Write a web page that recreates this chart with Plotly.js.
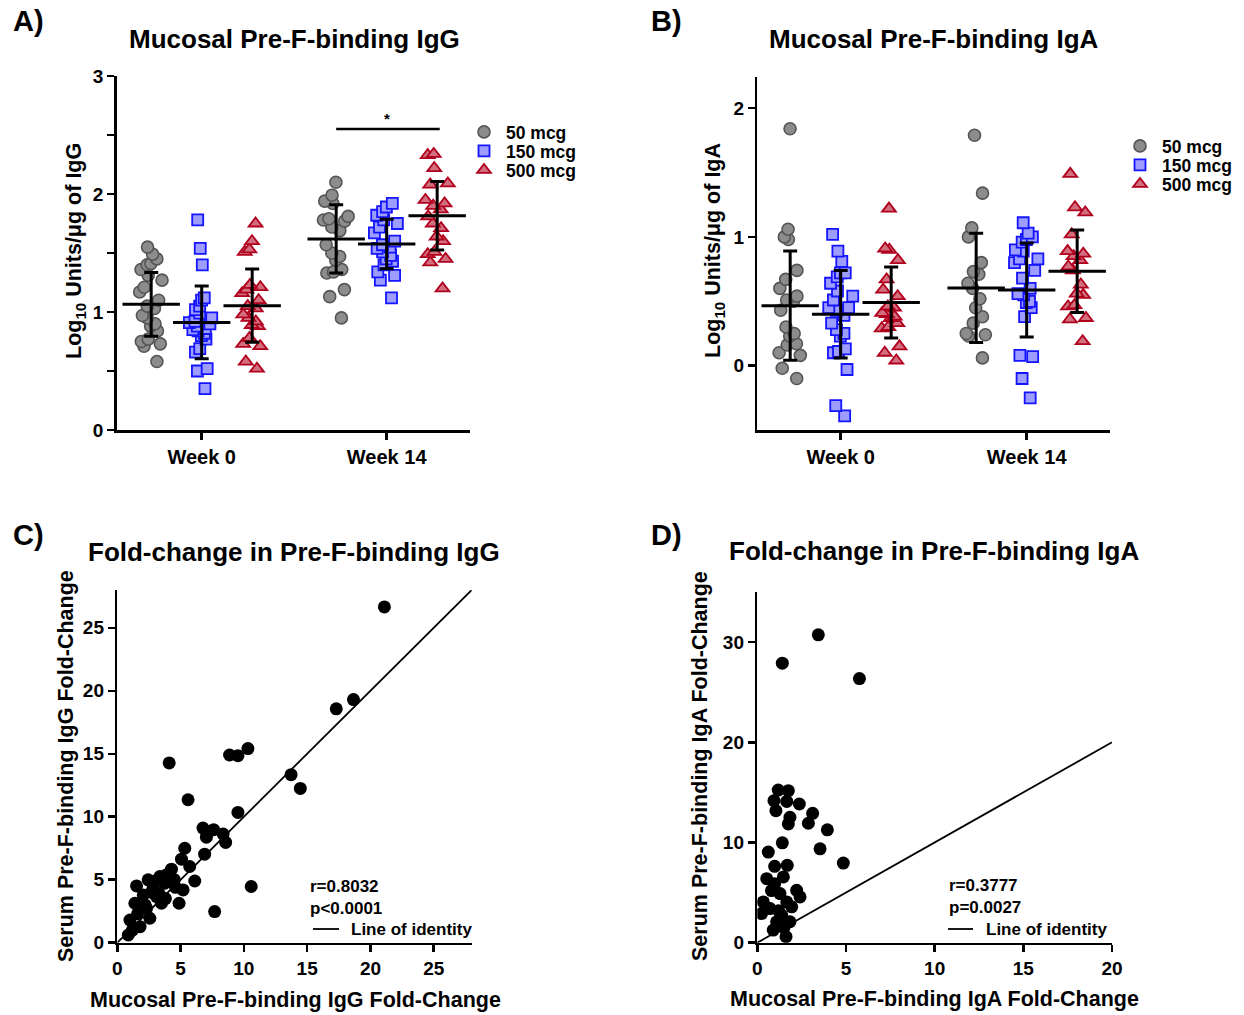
<!DOCTYPE html>
<html>
<head>
<meta charset="utf-8">
<script src="https://cdn.plot.ly/plotly-3.0.1.min.js"></script>
<style>html,body{margin:0;padding:0;background:#fff;}#chart{width:1244px;height:1015px;}</style>
</head>
<body>
<div id="chart"></div>
<script>
// ---------------- DATA ----------------
const weeks = ['Week 0', 'Week 14'];
const doses = ['50 mcg', '150 mcg', '500 mcg'];

// Panel A: Mucosal Pre-F-binding IgG (log10 units/ug IgG)
const igg50_w0  = [1.55, 1.49, 1.45, 1.41, 1.40, 1.36, 1.31, 1.27, 1.21, 1.17, 1.10, 1.05, 1.03, 0.97, 0.95, 0.90, 0.88, 0.84, 0.77, 0.75, 0.73, 0.71, 0.58];
const igg150_w0 = [1.78, 1.54, 1.40, 1.12, 1.10, 1.05, 1.02, 0.99, 0.95, 0.92, 0.91, 0.90, 0.88, 0.86, 0.85, 0.84, 0.82, 0.80, 0.77, 0.69, 0.66, 0.52, 0.50, 0.35];
const igg500_w0 = [1.75, 1.60, 1.53, 1.51, 1.23, 1.21, 1.19, 1.16, 1.10, 1.05, 1.03, 0.98, 0.95, 0.92, 0.89, 0.88, 0.78, 0.73, 0.71, 0.58, 0.52];
const igg50_w14  = [2.10, 1.99, 1.94, 1.92, 1.81, 1.79, 1.78, 1.77, 1.72, 1.69, 1.57, 1.50, 1.47, 1.44, 1.36, 1.34, 1.33, 1.19, 1.13, 0.95];
const igg150_w14 = [1.92, 1.89, 1.85, 1.82, 1.78, 1.75, 1.72, 1.67, 1.60, 1.57, 1.55, 1.54, 1.51, 1.48, 1.45, 1.43, 1.40, 1.34, 1.31, 1.27, 1.12];
const igg500_w14 = [2.34, 2.33, 2.22, 2.09, 2.08, 1.95, 1.92, 1.90, 1.87, 1.81, 1.75, 1.71, 1.64, 1.60, 1.51, 1.49, 1.45, 1.42, 1.20];
// mean and SD per dose, [Week 0, Week 14]
const iggMean50 = [1.065, 1.619], iggSd50 = [0.270, 0.289];
const iggMean150 = [0.912, 1.576], iggSd150 = [0.308, 0.210];
const iggMean500 = [1.054, 1.816], iggSd500 = [0.310, 0.290];
const iggSigY = 2.55;

// Panel B: Mucosal Pre-F-binding IgA (log10 units/ug IgA)
const iga50_w0  = [1.84, 1.06, 1.00, 0.98, 0.74, 0.67, 0.60, 0.54, 0.51, 0.50, 0.43, 0.30, 0.25, 0.23, 0.17, 0.16, 0.10, 0.08, -0.02, -0.10];
const iga150_w0 = [1.02, 0.89, 0.81, 0.72, 0.72, 0.69, 0.64, 0.58, 0.54, 0.51, 0.45, 0.45, 0.43, 0.39, 0.33, 0.28, 0.25, 0.23, 0.13, 0.11, 0.10, -0.03, -0.31, -0.39];
const iga500_w0 = [1.22, 0.91, 0.90, 0.82, 0.67, 0.59, 0.54, 0.46, 0.45, 0.41, 0.40, 0.38, 0.37, 0.33, 0.30, 0.29, 0.15, 0.10, 0.04];
const iga50_w14  = [1.79, 1.34, 1.07, 1.00, 0.80, 0.73, 0.71, 0.64, 0.60, 0.52, 0.45, 0.38, 0.33, 0.25, 0.24, 0.23, 0.06];
const iga150_w14 = [1.11, 1.03, 1.00, 0.98, 0.96, 0.90, 0.89, 0.83, 0.83, 0.80, 0.74, 0.68, 0.60, 0.56, 0.55, 0.50, 0.49, 0.45, 0.38, 0.08, 0.07, -0.10, -0.25];
const iga500_w14 = [1.49, 1.23, 1.19, 1.02, 0.89, 0.87, 0.85, 0.82, 0.77, 0.74, 0.63, 0.56, 0.55, 0.47, 0.46, 0.37, 0.36, 0.19];
const igaMean50 = [0.466, 0.604], igaSd50 = [0.424, 0.425];
const igaMean150 = [0.400, 0.588], igaSd150 = [0.340, 0.365];
const igaMean500 = [0.490, 0.733], igaSd500 = [0.276, 0.320];

// Panel C: fold-change IgG (mucosal x, serum y)
const foldIgG_mucosal = [21.1, 17.3, 18.66, 10.32, 9.53, 8.87, 4.1, 13.73, 14.46, 5.59, 9.53, 6.77, 7.04, 7.61, 8.36, 8.56, 5.33, 6.9, 5.07, 5.72, 4.28, 3.36, 6.12, 2.44, 1.52, 10.58, 5.2, 3.75, 2.83, 2.05, 3.1, 1.39, 3.49, 4.88, 2.31, 2.57, 1.0, 7.69, 1.8, 0.87, 3.9, 4.5, 3.0, 2.2, 1.6, 3.8, 2.7, 4.6, 1.2, 3.3];
const foldIgG_serum   = [26.66, 18.57, 19.3, 15.41, 14.85, 14.9, 14.27, 13.34, 12.25, 11.35, 10.34, 9.1, 8.38, 8.97, 8.62, 7.96, 7.5, 7.03, 6.63, 6.05, 5.84, 5.25, 4.9, 4.99, 4.51, 4.46, 4.19, 4.72, 4.32, 3.79, 3.66, 3.13, 3.13, 3.13, 2.73, 1.94, 1.8, 2.47, 1.27, 0.61, 5.4, 5.0, 4.9, 3.0, 2.3, 3.5, 4.0, 4.4, 1.0, 3.9];
const statsIgG = ['r=0.8032', 'p<0.0001'];

// Panel D: fold-change IgA (mucosal x, serum y)
const foldIgA_mucosal = [3.44, 1.41, 5.76, 1.18, 1.75, 0.94, 1.66, 2.37, 1.05, 3.12, 1.84, 2.88, 1.75, 3.95, 1.41, 3.54, 0.62, 4.85, 0.98, 1.69, 0.53, 1.47, 0.98, 2.22, 2.41, 0.34, 1.66, 0.72, 1.94, 0.24, 1.37, 1.09, 1.84, 0.9, 1.62, 1.28, 1.2, 0.5, 1.5, 0.8];
const foldIgA_serum   = [30.73, 27.9, 26.36, 15.23, 15.17, 14.17, 14.1, 13.84, 13.18, 12.91, 12.52, 11.92, 11.85, 11.26, 9.97, 9.37, 9.04, 7.95, 7.62, 7.72, 6.39, 6.56, 5.89, 5.23, 4.57, 4.07, 4.07, 3.41, 3.58, 2.91, 2.75, 2.09, 2.09, 1.26, 0.6, 4.9, 3.2, 3.5, 1.5, 5.2];
const statsIgA = ['r=0.3777', 'p=0.0027'];

// ---------------- STYLE / LAYOUT ----------------
const W = 1244, H = 1015;
const FONT = 'Arial, "Liberation Sans", Helvetica, sans-serif';
const px = v => v / W;
const py = v => 1 - v / H;

const doseStyle = [
  {symbol: 'circle', size: 12, color: '#8c8c8c', line: {color: '#555555', width: 1.6}},
  {symbol: 'square', size: 11, color: '#9d9dff', line: {color: '#1414ff', width: 1.8}},
  {symbol: 'triangle-up', size: 12, color: '#d26e7d', line: {color: '#b0001e', width: 1.8}}
];
const weekPosA = [0, 3.663];
const weekPosB = [0, 3.683];
const doseOffset = [-1, 0, 1];

const traces = [];

function addPanel(groups, means, sds, weekPos, xa, ya) {
  groups.forEach((byWeek, d) => {
    byWeek.forEach((vals, w) => {
      traces.push({
        type: 'box', x0: weekPos[w] + doseOffset[d], y: vals, xaxis: xa, yaxis: ya,
        boxpoints: 'all', jitter: 0.75, pointpos: 0, width: 0.72,
        fillcolor: 'rgba(0,0,0,0)', line: {width: 0, color: 'rgba(0,0,0,0)'},
        marker: JSON.parse(JSON.stringify(doseStyle[d])),
        showlegend: false, hoverinfo: 'y'
      });
    });
  });
  const mx = [], my = [], me = [];
  means.forEach((m, d) => {
    m.forEach((v, w) => { mx.push(weekPos[w] + doseOffset[d]); my.push(v); me.push(sds[d][w]); });
  });
  traces.push({
    type: 'scatter', mode: 'markers', x: mx, y: my, xaxis: xa, yaxis: ya,
    marker: {symbol: 'line-ew', size: 41, color: 'black', line: {width: 3, color: 'black'}},
    error_y: {type: 'data', array: me, visible: true, thickness: 3, width: 7, color: 'black'},
    showlegend: false, hoverinfo: 'y'
  });
}

addPanel([[igg50_w0, igg50_w14], [igg150_w0, igg150_w14], [igg500_w0, igg500_w14]],
         [iggMean50, iggMean150, iggMean500], [iggSd50, iggSd150, iggSd500], weekPosA, 'x', 'y');
addPanel([[iga50_w0, iga50_w14], [iga150_w0, iga150_w14], [iga500_w0, iga500_w14]],
         [igaMean50, igaMean150, igaMean500], [igaSd50, igaSd150, igaSd500], weekPosB, 'x2', 'y2');

// legend entries: one small legend per dose so that rows sit exactly as in the figure
const legFont = {family: '"Liberation Sans", Arial, sans-serif', size: 17.5, color: 'black', weight: 'bold'};
const legRowsA = [114, 133, 152], legRowsB = [128, 147, 166];
const legendLayouts = {};
doses.forEach((name, d) => {
  ['A', 'B'].forEach((p, k) => {
    const id = 'legend' + (k * 3 + d === 0 ? '' : (k * 3 + d + 1));
    traces.push({type: 'scatter', mode: 'markers', x: [null], y: [null], name: name,
      xaxis: p === 'A' ? 'x' : 'x2', yaxis: p === 'A' ? 'y' : 'y2',
      legend: id, marker: JSON.parse(JSON.stringify(doseStyle[d])), showlegend: true});
    legendLayouts[id] = {
      x: px(p === 'A' ? 462 : 1118), y: py(p === 'A' ? legRowsA[d] : legRowsB[d]),
      xanchor: 'left', yanchor: 'top', bgcolor: 'rgba(0,0,0,0)', font: legFont,
      itemwidth: 34, itemclick: false
    };
  });
});

// Panel C & D
traces.push({type: 'scatter', mode: 'lines', x: [0, 28], y: [0, 28], xaxis: 'x3', yaxis: 'y3',
  line: {color: 'black', width: 1.8}, showlegend: false, hoverinfo: 'skip'});
traces.push({type: 'scatter', mode: 'markers', x: foldIgG_mucosal, y: foldIgG_serum, xaxis: 'x3', yaxis: 'y3',
  marker: {color: 'black', size: 13}, showlegend: false});
traces.push({type: 'scatter', mode: 'lines', x: [0, 20], y: [0, 20], xaxis: 'x4', yaxis: 'y4',
  line: {color: 'black', width: 1.8}, showlegend: false, hoverinfo: 'skip'});
traces.push({type: 'scatter', mode: 'markers', x: foldIgA_mucosal, y: foldIgA_serum, xaxis: 'x4', yaxis: 'y4',
  marker: {color: 'black', size: 13}, showlegend: false});

const axBase = {
  showline: true, linecolor: 'black', linewidth: 2.5, ticks: 'outside', ticklen: 7, tickwidth: 2.5,
  tickcolor: 'black', showgrid: false, zeroline: false, fixedrange: true,
  tickfont: {family: FONT, size: 19, color: 'black', weight: 'bold'}
};
const ax = o => Object.assign({}, JSON.parse(JSON.stringify(axBase)), o);
const minorTicks = {dtick: 0.5, ticks: 'outside', ticklen: 7, tickwidth: 2.5, tickcolor: 'black', showgrid: false};

const layout = Object.assign({
  width: W, height: H, margin: {l: 0, r: 0, t: 0, b: 0},
  paper_bgcolor: 'white', plot_bgcolor: 'white', showlegend: true,
  font: {family: FONT, color: 'black'},
  xaxis: ax({domain: [px(116.7), px(470)], range: [-1.683, 5.313], tickvals: weekPosA, ticktext: weeks,
    tickfont: {family: FONT, size: 20, color: 'black', weight: 'bold'}, anchor: 'y'}),
  yaxis: ax({domain: [py(430), py(76)], range: [0, 3], tickvals: [0, 1, 2, 3], minor: minorTicks, anchor: 'x'}),
  xaxis2: ax({domain: [px(757.3), px(1110)], range: [-1.651, 5.333], tickvals: weekPosB, ticktext: weeks,
    tickfont: {family: FONT, size: 20, color: 'black', weight: 'bold'}, anchor: 'y2'}),
  yaxis2: ax({domain: [py(430), py(77.3)], range: [-0.5, 2.24], tickvals: [0, 1, 2], anchor: 'x2'}),
  xaxis3: ax({domain: [px(117.3), px(471.7)], range: [0, 28], tickvals: [0, 5, 10, 15, 20, 25], anchor: 'y3'}),
  yaxis3: ax({domain: [py(942.7), py(590)], range: [0, 28], tickvals: [0, 5, 10, 15, 20, 25], anchor: 'x3'}),
  xaxis4: ax({domain: [px(757.3), px(1112)], range: [0, 20], tickvals: [0, 5, 10, 15, 20], anchor: 'y4'}),
  yaxis4: ax({domain: [py(942.7), py(592)], range: [0, 35], tickvals: [0, 10, 20, 30], anchor: 'x4'}),
  shapes: [
    {type: 'line', xref: 'x', yref: 'y', x0: weekPosA[1] + doseOffset[0], x1: weekPosA[1] + doseOffset[2] + 0.05,
      y0: iggSigY, y1: iggSigY, line: {color: 'black', width: 2.5}},
    {type: 'line', xref: 'paper', yref: 'paper', x0: px(313), x1: px(339), y0: py(929), y1: py(929), line: {color: 'black', width: 1.8}},
    {type: 'line', xref: 'paper', yref: 'paper', x0: px(948), x1: px(973), y0: py(929), y1: py(929), line: {color: 'black', width: 1.8}}
  ],
  annotations: []
}, legendLayouts);

function ann(text, x, y, size, opts) {
  layout.annotations.push(Object.assign({
    text: text, xref: 'paper', yref: 'paper', x: px(x), y: py(y), showarrow: false,
    xanchor: 'center', yanchor: 'middle', font: {family: FONT, size: size, color: 'black', weight: 'bold'}
  }, opts || {}));
}
// panel letters
ann('A)', 11, 21, 29, {xanchor: 'left'});
ann('B)', 649, 21, 29, {xanchor: 'left'});
ann('C)', 11, 535, 29, {xanchor: 'left'});
ann('D)', 649, 535, 29, {xanchor: 'left'});
// titles
ann('Mucosal Pre-F-binding IgG', 294, 39, 26);
ann('Mucosal Pre-F-binding IgA', 934, 39, 26);
ann('Fold-change in Pre-F-binding IgG', 294, 552, 26);
ann('Fold-change in Pre-F-binding IgA', 934, 551, 26);
// axis titles
ann('Log<sub>10</sub> Units/μg of IgG', 75, 251, 21.5, {textangle: -90});
ann('Log<sub>10</sub> Units/μg of IgA', 714, 251, 21.5, {textangle: -90});
ann('Serum Pre-F-binding IgG Fold-Change', 66, 766, 21.5, {textangle: -90});
ann('Serum Pre-F-binding IgA Fold-Change', 700, 766, 21.5, {textangle: -90});
ann('Mucosal Pre-F-binding IgG Fold-Change', 295, 1000, 21.5);
ann('Mucosal Pre-F-binding IgA Fold-Change', 934, 999, 21.5);
// stats
ann(statsIgG[0], 308, 886, 17, {xanchor: 'left'});
ann(statsIgG[1], 308, 908, 17, {xanchor: 'left'});
ann('Line of identity', 349, 929, 17, {xanchor: 'left'});
ann(statsIgA[0], 947, 885, 17, {xanchor: 'left'});
ann(statsIgA[1], 947, 907, 17, {xanchor: 'left'});
ann('Line of identity', 984, 929, 17, {xanchor: 'left'});
// significance asterisk
layout.annotations.push({text: '*', xref: 'x', yref: 'y', x: weekPosA[1], y: iggSigY + 0.09, showarrow: false,
  font: {family: FONT, size: 15, color: 'black', weight: 'bold'}});

Plotly.newPlot('chart', traces, layout, {displayModeBar: false, staticPlot: true});
</script>
</body>
</html>
